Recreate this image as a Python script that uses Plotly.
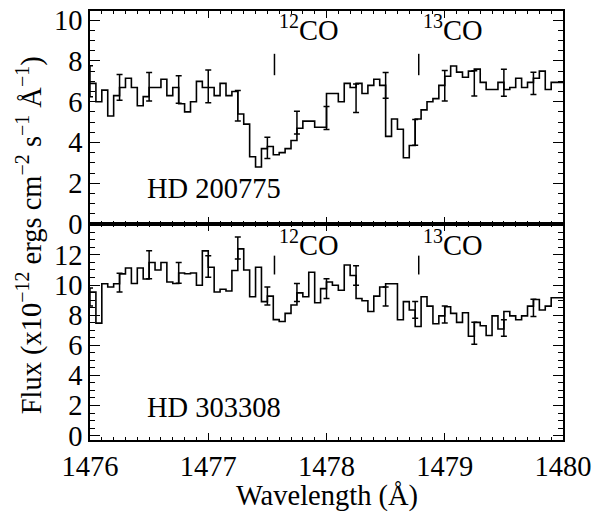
import numpy as np
import plotly.graph_objects as go

# ---------------- data ----------------
bin_start = 1476.0
bin_width = 0.05

flux_hd200775 = [6.9, 6.0, 6.57, 5.3, 6.3, 6.7, 7.15, 6.7, 5.8, 6.25,
                 6.7, 6.7, 7.1, 6.3, 6.7, 5.9, 5.5, 6.0, 7.0, 6.7,
                 6.7, 6.3, 6.9, 6.3, 6.5, 5.4, 4.9, 3.3, 2.8, 3.7,
                 3.8, 3.4, 3.5, 3.7, 4.1, 4.7, 5.05, 5.05, 4.75, 4.75,
                 6.4, 6.4, 6.0, 6.9, 6.7, 6.9, 6.4, 6.8, 7.1, 6.8,
                 4.3, 5.15, 4.65, 3.25, 3.85, 5.15, 5.6, 6.0, 6.15, 6.8,
                 7.25, 7.75, 7.45, 7.2, 7.5, 7.6, 6.95, 6.6, 6.6, 6.95,
                 6.6, 6.7, 7.15, 6.7, 6.95, 7.15, 7.5, 6.6, 6.95, 6.95]

flux_hd303308 = [9.54, 7.47, 10.08, 9.87, 10.08, 10.74, 11.13, 10.1, 11.13, 10.4,
                 11.5, 11.0, 11.5, 10.2, 10.1, 10.8, 10.75, 10.8, 9.98, 12.27,
                 11.18, 9.54, 9.72, 9.6, 10.96, 12.4, 11.0, 9.22, 11.18, 8.9,
                 9.26, 7.7, 7.58, 8.12, 8.67, 9.48, 9.22, 10.85, 8.82, 9.76,
                 10.2, 9.98, 9.65, 11.33, 10.63, 9.1, 8.96, 8.24, 9.26, 9.87,
                 10.08, 10.08, 7.69, 8.9, 8.34, 7.25, 9.22, 8.6, 7.43, 7.95,
                 8.56, 8.12, 7.52, 8.16, 6.6, 7.52, 7.3, 6.65, 7.95, 7.08,
                 8.24, 7.95, 7.69, 7.95, 8.6, 9.04, 8.34, 8.6, 9.15, 9.15]

err_wave = [1476.0, 1476.25, 1476.5, 1476.75, 1477.0, 1477.25, 1477.5, 1477.75,
            1478.0, 1478.25, 1478.5, 1478.75, 1479.0, 1479.25, 1479.5, 1479.75]
err_center_hd200775 = [7.0, 6.7, 6.73, 6.6, 6.75, 5.8, 3.74, 4.97, 5.2, 6.17, 6.8, 4.5, 6.78, 6.9, 6.93, 6.9]
err_half_hd200775 = [0.76, 0.63, 0.7, 0.67, 0.8, 0.75, 0.52, 0.56, 0.56, 0.7, 0.63, 0.63, 0.75, 0.62, 0.66, 0.55]
err_center_hd303308 = [9.2, 10.16, 11.34, 10.8, 11.23, 12.45, 9.27, 9.5, 9.76, 10.63, 9.24, 8.35, 8.04, 6.79, 7.15, 8.48]
err_half_hd303308 = [0.6, 0.62, 0.93, 0.69, 0.71, 0.73, 0.6, 0.6, 0.65, 0.65, 0.63, 0.55, 0.57, 0.73, 0.55, 0.57]

line_names = ["<sup>12</sup>CO", "<sup>13</sup>CO"]
line_waves = [1477.56, 1478.78]
mark_range_top = [7.3, 8.35]
mark_range_bot = [10.7, 11.95]
label_y_top = 9.6
label_y_bot = 12.8

star_names = ["HD 200775", "HD 303308"]

x_ticks = [1476, 1477, 1478, 1479, 1480]
y_ticks_top = [0, 2, 4, 6, 8, 10]
y_ticks_bot = [0, 2, 4, 6, 8, 10, 12]

# ---------------- figure ----------------
FONT = "Liberation Serif, Times New Roman, serif"
FS = 28.5
fig = go.Figure()

edges = bin_start + bin_width * np.arange(len(flux_hd200775) + 1)

for flux, ya, xa in [(flux_hd200775, "y", "x"), (flux_hd303308, "y2", "x2")]:
    yy = list(flux) + [flux[-1]]
    fig.add_trace(go.Scatter(x=edges, y=yy, mode="lines", line=dict(color="black", width=1.6, shape="hv"),
                             xaxis=xa, yaxis=ya, showlegend=False, hoverinfo="skip"))

for cen, half, ya, xa in [(err_center_hd200775, err_half_hd200775, "y", "x"),
                          (err_center_hd303308, err_half_hd303308, "y2", "x2")]:
    fig.add_trace(go.Scatter(x=err_wave, y=cen, mode="markers", marker=dict(size=0.1, color="black"),
                             error_y=dict(type="data", array=half, symmetric=True, color="black",
                                          thickness=1.5, width=3),
                             xaxis=xa, yaxis=ya, showlegend=False, hoverinfo="skip"))

for w in line_waves:
    fig.add_trace(go.Scatter(x=[w, w], y=mark_range_top, mode="lines", line=dict(color="black", width=1.5),
                             xaxis="x", yaxis="y", showlegend=False, hoverinfo="skip"))
    fig.add_trace(go.Scatter(x=[w, w], y=mark_range_bot, mode="lines", line=dict(color="black", width=1.5),
                             xaxis="x2", yaxis="y2", showlegend=False, hoverinfo="skip"))

annotations = []
for name, w in zip(line_names, line_waves):
    for xr, yr, yv in [("x", "y", label_y_top), ("x2", "y2", label_y_bot)]:
        annotations.append(dict(x=w + 0.02, y=yv, xref=xr, yref=yr, text=name, showarrow=False,
                                xanchor="left", yanchor="middle", font=dict(family=FONT, size=FS, color="black")))
for name, xr, yr, yv in [(star_names[0], "x", "y", 1.75), (star_names[1], "x2", "y2", 1.85)]:
    annotations.append(dict(x=1477.05, y=yv, xref=xr, yref=yr, text=name, showarrow=False,
                            xanchor="center", yanchor="middle", font=dict(family=FONT, size=FS, color="black")))

annotations.append(dict(x=-0.126, y=0.478, xref="paper", yref="paper", textangle=-90,
                        text="Flux (x10<sup>\u221212</sup> ergs cm<sup>\u22122</sup> s<sup>\u22121</sup> \u00c5<sup>\u22121</sup>)",
                        showarrow=False, xanchor="center", yanchor="middle",
                        font=dict(family=FONT, size=FS, color="black")))
annotations.append(dict(x=0.5, y=-0.131, xref="paper", yref="paper", text="Wavelength (\u00c5)",
                        showarrow=False, xanchor="center", yanchor="middle",
                        font=dict(family=FONT, size=FS, color="black")))

axis_common = dict(showline=True, linecolor="black", linewidth=1.5, mirror="allticks",
                   ticks="inside", tickcolor="black", tickwidth=1.2, showgrid=False, zeroline=False,
                   tickfont=dict(family=FONT, size=FS, color="black"))

split = (440 - 221) / 435.0

fig.update_layout(
    width=597, height=517,
    margin=dict(l=90, r=31, t=5, b=77),
    paper_bgcolor="white", plot_bgcolor="white",
    annotations=annotations,
    xaxis=dict(axis_common, domain=[0, 1], range=[1476, 1480], tickvals=x_ticks, showticklabels=False,
               ticklen=7, anchor="y", minor=dict(dtick=0.1, ticks="inside", ticklen=3.5, tickcolor="black")),
    yaxis=dict(axis_common, domain=[split, 1], range=[0, 10.45], tickvals=y_ticks_top, ticklen=10,
               anchor="x", minor=dict(dtick=0.5, ticks="inside", ticklen=5, tickcolor="black")),
    xaxis2=dict(axis_common, domain=[0, 1], range=[1476, 1480], tickvals=x_ticks, ticklen=7,
                anchor="y2",
                minor=dict(dtick=0.1, ticks="inside", ticklen=3.5, tickcolor="black")),
    yaxis2=dict(axis_common, domain=[0, split], range=[-0.29, 14.05], tickvals=y_ticks_bot, ticklen=10,
                anchor="x2", minor=dict(dtick=0.5, ticks="inside", ticklen=5, tickcolor="black")),
)

fig.write_html("out.html")
